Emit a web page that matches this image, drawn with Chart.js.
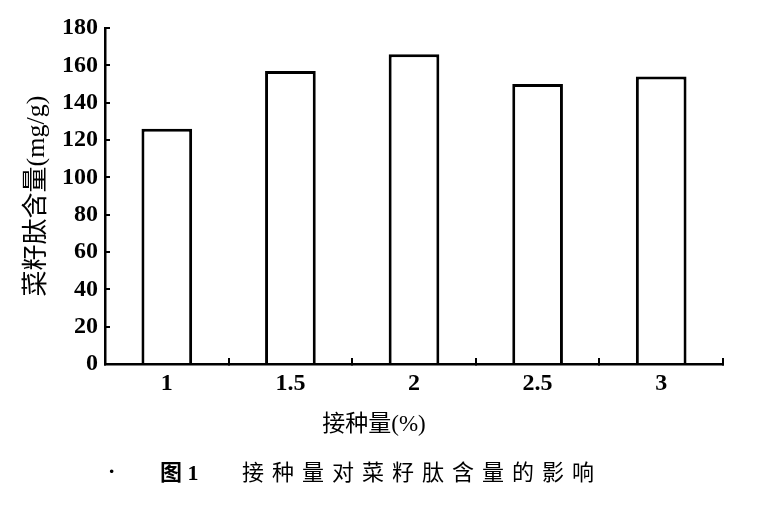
<!DOCTYPE html>
<html>
<head>
<meta charset="utf-8">
<script src="https://cdn.jsdelivr.net/npm/chart.js@4/dist/chart.umd.min.js"></script>
<style>
  html, body { margin: 0; padding: 0; background: #fff; }
  #wrap { width: 759px; height: 505px; }
</style>
</head>
<body>
<div id="wrap"><canvas id="myChart" width="759" height="505"></canvas></div>
<script>
// data
const categories = ['1', '1.5', '2', '2.5', '3'];
const peptideContent = [126, 157, 166, 150, 154];
const yMin = 0;
const yMax = 180;
const yStep = 20;

const yTitle = '菜籽肽含量(mg/g)';
const xTitle = '接种量(%)';
const figNo = '图 1';
const caption = '接种量对菜籽肽含量的影响';

const serif = "'Liberation Serif', 'Noto Sans CJK SC', serif";

// draws x title and figure caption under the plot
const captionPlugin = {
  id: 'captionPlugin',
  afterDraw(chart) {
    const ctx = chart.ctx;
    const area = chart.chartArea;
    ctx.save();
    ctx.fillStyle = '#000';
    ctx.textBaseline = 'middle';

    ctx.font = '23px ' + serif;
    ctx.textAlign = 'center';
    ctx.fillText(xTitle, (area.left + area.right) / 2 - 40, area.bottom + 61);

    ctx.textAlign = 'left';
    ctx.font = 'bold 22px ' + serif;
    ctx.fillText('·', 108, 472);
    ctx.fillText(figNo, 160, 474);

    ctx.font = '22px ' + serif;
    ctx.letterSpacing = '8px';
    ctx.fillText(caption, 242, 474);
    ctx.restore();
  }
};

const data = {
  labels: categories,
  datasets: [{
    label: yTitle,
    data: peptideContent,
    backgroundColor: '#fff',
    borderColor: '#000',
    borderWidth: 3,
    borderSkipped: 'bottom',
    barPercentage: 0.41,
    categoryPercentage: 1
  }]
};

const config = {
  type: 'bar',
  data: data,
  plugins: [captionPlugin],
  options: {
    responsive: false,
    animation: false,
    layout: { padding: { left: 0, top: 28, right: 36, bottom: 101 } },
    plugins: {
      legend: { display: false },
      tooltip: { enabled: false }
    },
    scales: {
      x: {
        offset: true,
        afterFit: (s) => { s.height = 40; },
        border: { color: '#000', width: 2.5 },
        grid: {
          offset: true,
          drawOnChartArea: false,
          drawTicks: true,
          tickLength: -6,
          color: '#000',
          lineWidth: 2
        },
        ticks: {
          color: '#000',
          padding: 11,
          font: { family: serif, size: 24, weight: 'bold' }
        }
      },
      y: {
        min: yMin,
        max: yMax,
        afterFit: (s) => { s.width = 105; },
        border: { color: '#000', width: 2.5 },
        grid: {
          drawOnChartArea: false,
          drawTicks: true,
          tickLength: -5,
          color: '#000',
          lineWidth: 2
        },
        ticks: {
          stepSize: yStep,
          color: '#000',
          padding: 12,
          font: { family: serif, size: 24, weight: 'bold' }
        },
        title: {
          display: true,
          text: yTitle,
          color: '#000',
          padding: { top: 22, bottom: 0 },
          font: { family: serif, size: 26 }
        }
      }
    }
  }
};

const myChart = new Chart(
  document.getElementById('myChart'),
  config
);
</script>
</body>
</html>
